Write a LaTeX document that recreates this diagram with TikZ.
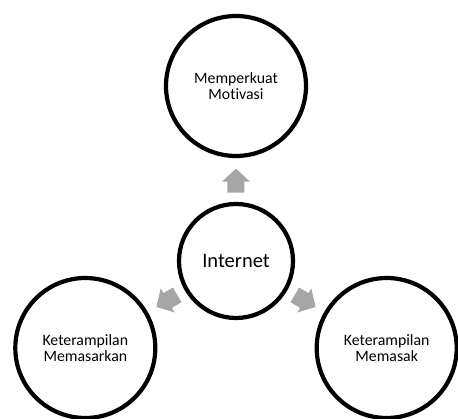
\documentclass[tikz,border=0pt]{standalone}
\usepackage{fontspec}
\setmainfont{Carlito}[Ligatures={NoCommon,NoRare}]
\usetikzlibrary{calc}

\begin{document}
\begin{tikzpicture}[x=1pt,y=1pt,
	bubble/.style={circle,draw,line width=4.2pt,minimum size=140pt,inner sep=0pt,align=center,font=\fontsize{15.8}{16.8}\selectfont},
	hub/.style={bubble,minimum size=114pt,font=\fontsize{20.5}{24}\selectfont},
	pointer/.pic={\fill[gray!70] (-12,-8.5) -- (-1,-8.5) -- (-1,-14) -- (12,0) -- (-1,14) -- (-1,8.5) -- (-12,8.5) -- cycle;}]
		\useasboundingbox (-236,-158) rectangle (222,261);
		% middle and the three outcomes
		\node[hub] (net) at (0,0) {Internet};
		\node[bubble] (motivasi) at (90:175) {Memperkuat\\Motivasi};
		\node[bubble] (pasar) at (210:174) {Keterampilan\\Memasarkan};
		\node[bubble] (masak) at (330:174) {Keterampilan\\Memasak};
		% block arrows
		\pic[rotate=90] at ($(net)!0.459!(motivasi)$) {pointer};
		\pic[rotate=210] at ($(net)!0.459!(pasar)$) {pointer};
		\pic[rotate=330] at ($(net)!0.459!(masak)$) {pointer};
\end{tikzpicture}
\end{document}
